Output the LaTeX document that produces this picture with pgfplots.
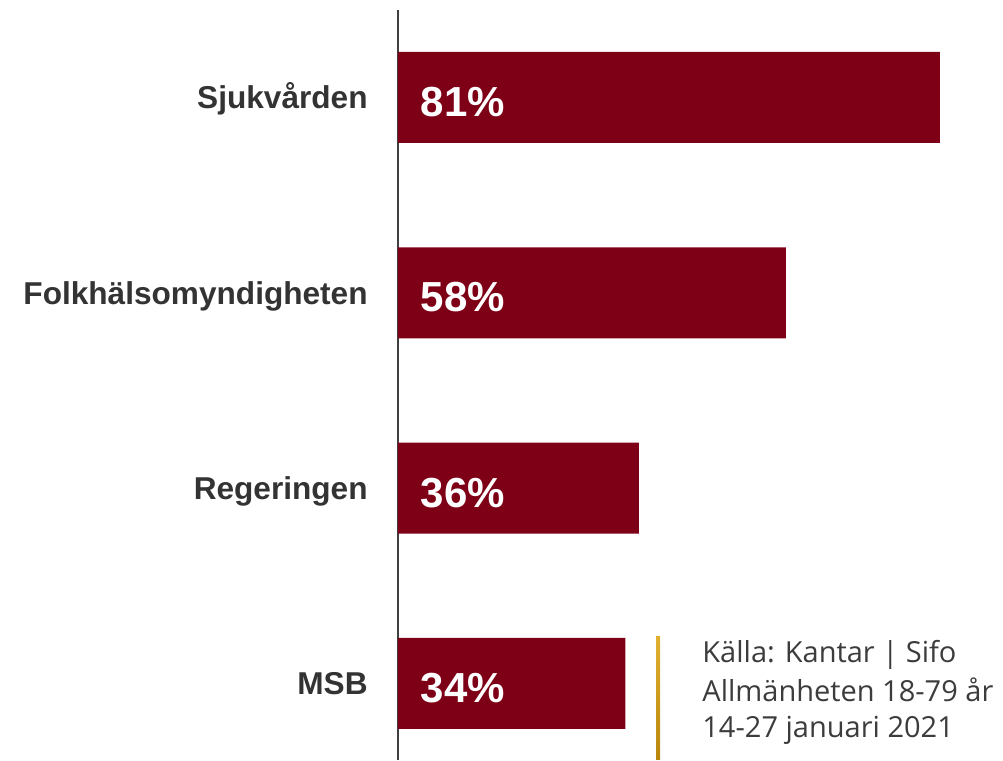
\documentclass[border=0pt]{standalone}
\usepackage{pgfplots}
\usepackage{pgfplotstable}
\pgfplotsset{compat=1.18}
\usepackage{fontspec}
\setmainfont{Liberation Sans}
\newfontfamily\srcfont{Open Sans}
\definecolor{barc}{HTML}{7E0016}
\definecolor{lab}{HTML}{333333}
\definecolor{axisgray}{HTML}{404040}
\definecolor{src}{HTML}{3C3C3C}
\definecolor{goldA}{HTML}{E0B030}
\definecolor{goldB}{HTML}{F8E060}
\definecolor{goldC}{HTML}{B8860B}
\pgfplotstableread{
y v
3 81
2 58
1 36
0 34
}\data
\begin{document}
\begin{tikzpicture}
\begin{axis}[
  at={(199pt,0.5pt)}, anchor=south west,
  scale only axis, width=301pt, height=375pt,
  xmin=0, xmax=90, ymin=-0.392, ymax=3.448,
  axis x line=none, axis y line=left,
  axis line style={-, draw=axisgray, line width=1pt},
  xtick=\empty,
  ytick={0,1,2,3},
  yticklabels={MSB,Regeringen,Folkhälsomyndigheten,Sjukvården},
  major tick length=0pt,
  yticklabel style={font=\fontsize{15.8}{19}\selectfont\bfseries, text=lab, anchor=base east, inner sep=0pt, xshift=-15pt, yshift=-5.6pt},
  clip=false,
]
\addplot[xbar, bar width=45.5pt, fill=barc, draw=none] table[x=v, y=y]{\data};
\addplot[draw=none, point meta=explicit symbolic,
  nodes near coords={\pgfplotspointmeta\%},
  every node near coord/.append style={anchor=base west, inner sep=0pt, xshift=11.2pt, yshift=-9.5pt, text=white, font=\fontsize{21}{25}\selectfont\bfseries}]
  table[x expr=0, y=y, meta=v]{\data};
\end{axis}
\begin{scope}[x=0.5pt,y=0.5pt]
\shade[top color=goldA, middle color=goldB, bottom color=goldC] (656,1) rectangle (660,124);
\node[anchor=base west, inner sep=0pt, font=\srcfont\fontsize{14.5}{16}\selectfont, text=src] at (702,98) {Källa: Kantar | Sifo};
\node[anchor=base west, inner sep=0pt, font=\srcfont\fontsize{14.5}{16}\selectfont, text=src] at (702,59) {Allmänheten 18-79 år};
\node[anchor=base west, inner sep=0pt, font=\srcfont\fontsize{14.5}{16}\selectfont, text=src] at (702,23) {14-27 januari 2021};
\pgfresetboundingbox
\path[use as bounding box] (0,0) rectangle (1003,761);
\end{scope}
\end{tikzpicture}
\end{document}
